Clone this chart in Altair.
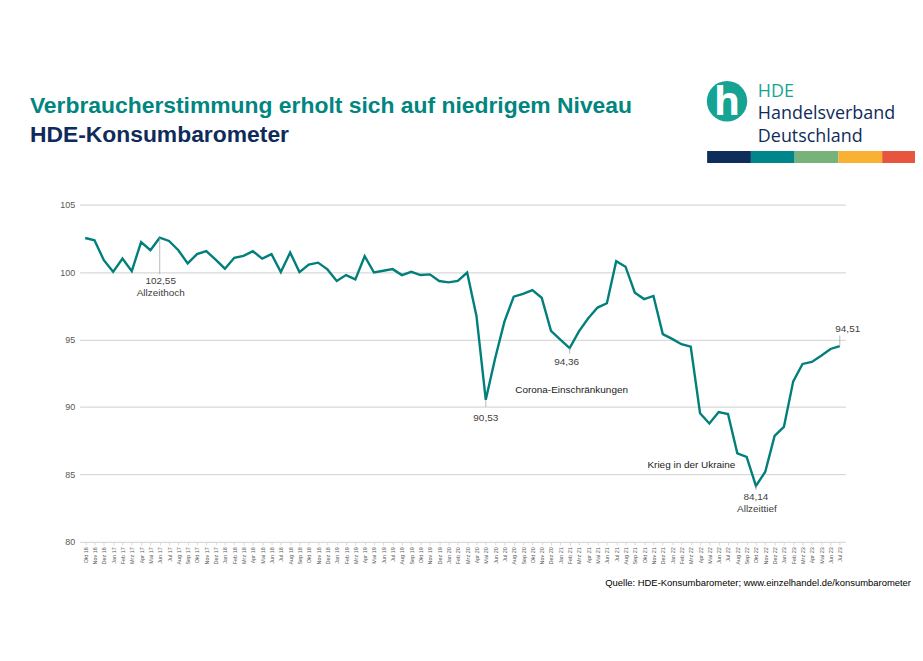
import altair as alt
import pandas as pd

# ---------------- data ----------------
month_names = ["Jan", "Feb", "Mrz", "Apr", "Mai", "Jun", "Jul", "Aug", "Sep", "Okt", "Nov", "Dez"]
months = (["Okt 16", "Nov 16", "Dez 16"]
          + [f"{m} {y}" for y in range(17, 23) for m in month_names]
          + [f"{m} 23" for m in month_names[:7]])

values = [
    102.53, 102.36, 100.88,                                                         # 2016
    100.02, 101.0, 100.07, 102.23, 101.62, 102.55, 102.31, 101.62, 100.64, 101.33, 101.55, 100.93,  # 2017
    100.25, 101.06, 101.2, 101.55, 101.0, 101.33, 100.0, 101.45, 100.0, 100.56, 100.7, 100.2,     # 2018
    99.34, 99.78, 99.46, 101.18, 99.97, 100.1, 100.22, 99.78, 100.02, 99.78, 99.83, 99.34,       # 2019
    99.24, 99.34, 99.97, 96.75, 90.53, 93.6, 96.33, 98.18, 98.38, 98.67, 98.1, 95.65,            # 2020
    94.99, 94.36, 95.6, 96.58, 97.37, 97.69, 100.81, 100.4, 98.47, 98.0, 98.23, 95.4,            # 2021
    95.05, 94.65, 94.47, 89.53, 88.77, 89.62, 89.48, 86.56, 86.3, 84.14, 85.2, 87.85,            # 2022
    88.52, 91.9, 93.19, 93.34, 93.8, 94.3, 94.51,                                               # 2023
]

y_ticks = [80, 85, 90, 95, 100, 105]

ann_months = ["Jun 17", "Jun 17", "Mai 20", "Feb 21", "Okt 22", "Okt 22", "Jul 23"]
ann_values = [102.55, 102.55, 90.53, 94.36, 84.14, 84.14, 94.51]
ann_texts = ["102,55", "Allzeithoch", "90,53", "94,36", "84,14", "Allzeittief", "94,51"]

leader_months = ["Jun 17", "Mai 20", "Feb 21", "Okt 22", "Jul 23"]
leader_start = [102.55, 90.53, 94.36, 84.14, 94.51]
leader_end = [99.85, 90.0, 93.95, 83.85, 95.3]

note_months = ["Feb 21", "Feb 22"]
note_values = [91.22, 85.7]
note_texts = ["Corona-Einschränkungen", "Krieg in der Ukraine"]

title_1 = "Verbraucherstimmung erholt sich auf niedrigem Niveau"
title_2 = "HDE-Konsumbarometer"
source = "Quelle: HDE-Konsumbarometer; www.einzelhandel.de/konsumbarometer"
logo_lines = ["HDE", "Handelsverband", "Deutschland"]
bar_colors = ["#0E2D5B", "#00858A", "#77B27A", "#F8B133", "#E8553E"]

# ---------------- styles ----------------
TEAL = "#007F7B"
NAVY = "#0F2B5B"
LOGO_TEAL = "#17A394"
FONT = "Liberation Sans"
X_SCALE = alt.Scale(type="point", padding=0.6, domain=months)

df = pd.DataFrame({"month": months, "value": values})

x_enc = alt.X(
    "month:N", sort=months, scale=X_SCALE,
    axis=alt.Axis(title=None, labelAngle=270, labelFontSize=5.5, labelColor="#595959",
                  labelOverlap=False, domain=False, ticks=True, tickColor="#D9D9D9",
                  tickSize=3, labelPadding=2, grid=False, labelFont=FONT),
)
y_scale = alt.Scale(domain=[80, 105], nice=False, zero=False)
y_enc = alt.Y(
    "value:Q", scale=y_scale,
    axis=alt.Axis(title=None, values=y_ticks, domain=False, ticks=False, labelFontSize=9,
                  labelColor="#595959", gridColor="#D9D9D9", gridWidth=1.2, labelPadding=5,
                  labelFont=FONT),
)

line = alt.Chart(df).mark_line(color=TEAL, strokeWidth=2.4).encode(x=x_enc, y=y_enc)

# leader lines
ldf = pd.DataFrame({"month": leader_months, "v1": leader_start, "v2": leader_end})
leaders = alt.Chart(ldf).mark_rule(color="#A6A6A6", strokeWidth=0.8).encode(
    x=alt.X("month:N", sort=months, scale=X_SCALE),
    y=alt.Y("v1:Q", scale=y_scale),
    y2="v2:Q",
)

# annotation labels
adf = pd.DataFrame({"month": ann_months, "value": ann_values, "label": ann_texts})
offsets = {
    "102,55": (1, 44), "Allzeithoch": (1, 56), "90,53": (0, 18), "94,36": (-3, 14),
    "84,14": (0, 11), "Allzeittief": (1, 23), "94,51": (8, -17),
}
ann_layers = []
for lab, (dx, dy) in offsets.items():
    ann_layers.append(
        alt.Chart(adf).transform_filter(alt.datum.label == lab).mark_text(
            dx=dx, dy=dy, fontSize=10, color="#404040", font=FONT, baseline="middle", align="center"
        ).encode(
            x=alt.X("month:N", sort=months, scale=X_SCALE),
            y=alt.Y("value:Q", scale=y_scale),
            text="label:N",
        )
    )

ndf = pd.DataFrame({"month": note_months, "value": note_values, "label": note_texts})
note_dx = {"Corona-Einschränkungen": 2, "Krieg in der Ukraine": 10}
note_layers = []
for lab, dx in note_dx.items():
    note_layers.append(
        alt.Chart(ndf).transform_filter(alt.datum.label == lab).mark_text(
            fontSize=10, color="#1A1A1A", font=FONT, dx=dx, baseline="middle"
        ).encode(
            x=alt.X("month:N", sort=months, scale=X_SCALE),
            y=alt.Y("value:Q", scale=y_scale),
            text="label:N",
        )
    )

# ---------------- decorations (titles, logo, source) ----------------
one = pd.DataFrame({"k": [0]})


def txt(text, x, y, size, color, weight="normal", align="left", font=FONT, baseline="alphabetic"):
    return alt.Chart(one).mark_text(
        text=text, fontSize=size, color=color, fontWeight=weight, align=align, font=font,
        baseline=baseline
    ).encode(x=alt.value(x), y=alt.value(y))


# plot origin is at page (80, 204)
deco = [
    txt(title_1, -50, -92, 23, "#00857F", "bold"),
    txt(title_2, -50, -63, 23, NAVY, "bold"),
    txt(source, 836, 383, 9.5, "#000000", align="right"),
    alt.Chart(one).mark_point(shape="circle", filled=True, size=1650, color=LOGO_TEAL, opacity=1).encode(
        x=alt.value(651), y=alt.value(-104)),
    txt("h", 651, -90, 40, "#FFFFFF", "bold", align="center", font="Open Sans"),
    txt(logo_lines[0], 682, -108, 18, LOGO_TEAL, font="Open Sans"),
    txt(logo_lines[1], 682, -86, 18, NAVY, font="Open Sans"),
    txt(logo_lines[2], 682, -63, 18, NAVY, font="Open Sans"),
]
seg_edges = [631, 675, 719, 763, 807, 850]
for i, c in enumerate(bar_colors):
    deco.append(
        alt.Chart(one).mark_rect(color=c).encode(
            x=alt.value(seg_edges[i]), x2=alt.value(seg_edges[i + 1]),
            y=alt.value(-54), y2=alt.value(-42))
    )

chart = alt.layer(line, leaders, *ann_layers, *note_layers, *deco).properties(
    width=770, height=339,
    autosize=alt.AutoSizeParams(type="none"),
    padding={"left": 72, "top": 196, "right": 70, "bottom": 100},
    background="white",
).configure_view(stroke=None)

chart.save("out.html", embed_options={"renderer": "svg", "actions": False})
